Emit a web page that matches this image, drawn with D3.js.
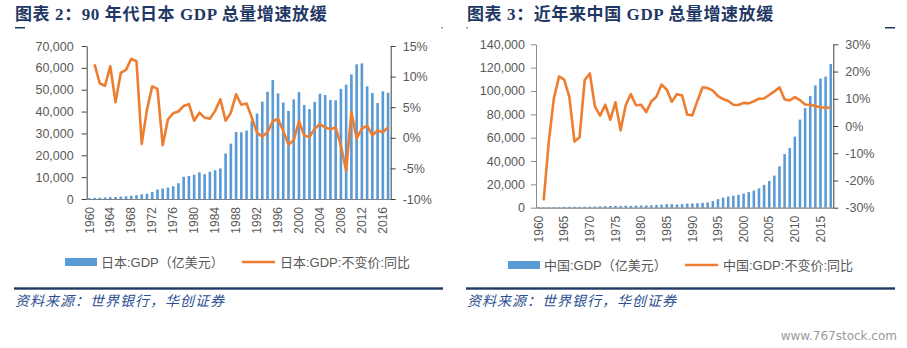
<!DOCTYPE html>
<html>
<head>
<meta charset="utf-8">
<script src="https://cdn.jsdelivr.net/npm/d3@7"></script>
<style>
    body { margin: 0; background: #fff; }
    svg { display: block; }
    .tick text { fill: #595959; }
</style>
</head>
<body>
<script>
(function() {
    'use strict';

    // categories
    let years = d3.range(1960, 2018);

    // 日本 GDP（亿美元）
    let japanGdp = [
        443, 535, 607, 695, 817, 910, 1056, 1238, 1466, 1722,
        2126, 2402, 3180, 4321, 4796, 5215, 5862, 7214, 10136, 10550,
        11054, 12190, 11345, 12433, 13184, 13989, 20789, 25328, 30720, 30549,
        31328, 35844, 39088, 44541, 49070, 54491, 48337, 44147, 40325, 45621,
        48875, 43035, 41151, 44457, 48151, 47554, 45304, 45153, 50379, 52314,
        57001, 61575, 62032, 51557, 48504, 43895, 49267, 48600
    ];
    // 日本 GDP 不变价 同比（%），1960 无数据
    let japanGrowth = [
        null, 12.0, 8.9, 8.5, 11.7, 5.8, 10.6, 11.1, 12.9, 12.5,
        -1.0, 4.6, 8.4, 8.0, -1.2, 3.0, 4.0, 4.3, 5.2, 5.5,
        2.8, 4.1, 3.3, 3.1, 4.4, 6.3, 2.8, 4.1, 7.1, 5.4,
        5.6, 3.3, 0.8, 0.2, 0.9, 2.7, 3.1, 1.1, -1.1, -0.4,
        2.7, 0.4, 0.1, 1.5, 2.2, 1.7, 1.4, 1.7, -1.3, -5.4,
        4.2, -0.1, 1.5, 2.0, 0.4, 1.2, 0.9, 1.7
    ];

    // 中国 GDP（亿美元）
    let chinaGdp = [
        597, 501, 472, 507, 597, 704, 767, 729, 708, 797,
        926, 998, 1137, 1385, 1442, 1634, 1539, 1749, 1495, 1783,
        1911, 1959, 2051, 2307, 2599, 3095, 3008, 2730, 3124, 3478,
        3609, 3834, 4269, 4447, 5643, 7345, 8637, 9616, 10290, 10940,
        12113, 13394, 14706, 16603, 19553, 22860, 27521, 35503, 45943, 51017,
        60872, 75515, 85322, 95704, 104757, 110616, 112333, 123104
    ];
    // 中国 GDP 不变价 同比（%）
    let chinaGrowth = [
        null, -27.3, -5.6, 10.3, 18.2, 17.0, 10.7, -5.7, -4.1, 16.9,
        19.3, 7.1, 3.8, 7.8, 2.3, 8.7, -1.6, 7.6, 11.7, 7.6,
        7.8, 5.1, 9.0, 10.8, 15.2, 13.4, 8.9, 11.7, 11.2, 4.2,
        3.9, 9.3, 14.2, 13.9, 13.0, 11.0, 9.9, 9.2, 7.8, 7.7,
        8.5, 8.3, 9.1, 10.0, 10.1, 11.4, 12.7, 14.2, 9.7, 9.4,
        10.6, 9.5, 7.9, 7.8, 7.3, 6.9, 6.7, 6.8
    ];

    let japanTicks = [0, 10000, 20000, 30000, 40000, 50000, 60000, 70000];
    let japanPctTicks = [-10, -5, 0, 5, 10, 15];
    let japanYearLabels = years.filter(function(y) { return (y - 1960) % 4 === 0; });

    let chinaTicks = [0, 20000, 40000, 60000, 80000, 100000, 120000, 140000];
    let chinaPctTicks = [-30, -20, -10, 0, 10, 20, 30];
    let chinaYearLabels = years.filter(function(y) { return (y - 1960) % 5 === 0; });

    let blue = "#5b9bd5";
    let orange = "#ed7d31";
    let navy = "#1f3864";
    let sansFont = "'Liberation Sans', 'Noto Sans CJK SC', sans-serif";

    let svg = d3.select("body").append("svg")
        .attr("width", 907)
        .attr("height", 348);

    function drawChart(cfg) {
        let g = svg.append("g");

        // title
        g.append("text")
            .attr("x", cfg.titleX)
            .attr("y", 20)
            .attr("fill", navy)
            .style("font-family", "'Liberation Serif', 'Noto Sans CJK SC', serif")
            .style("font-weight", "bold")
            .style("font-size", "17px")
            .style("letter-spacing", "0.6px")
            .text(cfg.title);

        cfg.titleMarks.forEach(function(m) {
            g.append("rect")
                .attr("x", m[0]).attr("y", 27)
                .attr("width", m[1] - m[0]).attr("height", 1.5)
                .attr("fill", navy);
        });

        let x = d3.scaleBand()
            .domain(years)
            .range([cfg.left, cfg.right])
            .paddingInner(cfg.pad)
            .paddingOuter(cfg.pad / 2);
        let y = d3.scaleLinear()
            .domain([cfg.ticks[0], cfg.ticks[cfg.ticks.length - 1]])
            .range([cfg.bottom, cfg.top]);
        let y2 = d3.scaleLinear()
            .domain([cfg.pctTicks[0], cfg.pctTicks[cfg.pctTicks.length - 1]])
            .range([cfg.bottom, cfg.top]);

        // bars
        g.append("g").selectAll("rect")
            .data(cfg.gdp)
            .enter()
            .append("rect")
            .attr("x", function(d, i) { return x(years[i]); })
            .attr("y", function(d) { return y(d); })
            .attr("width", x.bandwidth())
            .attr("height", function(d) { return cfg.bottom - y(d); })
            .attr("fill", blue);

        // left axis
        let axL = g.append("g")
            .attr("transform", "translate(" + cfg.left + ",0)")
            .call(d3.axisLeft(y).tickValues(cfg.ticks).tickSize(5).tickSizeOuter(0)
                .tickPadding(cfg.leftPad).tickFormat(d3.format(",")));
        axL.selectAll("path, line").attr("stroke", cfg.leftAxisColor);
        axL.selectAll("text").style("font-family", sansFont).style("font-size", "12.5px");

        // right axis
        let axR = g.append("g")
            .attr("transform", "translate(" + cfg.right + ",0)")
            .call(d3.axisRight(y2).tickValues(cfg.pctTicks).tickSize(5).tickSizeOuter(0)
                .tickPadding(7).tickFormat(function(d) { return d + "%"; }));
        axR.selectAll("path, line").attr("stroke", "#404040");
        axR.selectAll("text").style("font-family", sansFont).style("font-size", "12.5px");

        // bottom axis
        let axB = g.append("g")
            .attr("transform", "translate(0," + cfg.bottom + ")")
            .call(d3.axisBottom(x).tickValues(cfg.yearLabels).tickSize(0).tickSizeOuter(0));
        axB.select(".domain").attr("stroke", "#808080").attr("stroke-width", 1.2);
        axB.selectAll("text")
            .attr("transform", "rotate(-90)")
            .attr("x", -8)
            .attr("y", 0)
            .attr("dy", "0.35em")
            .style("text-anchor", "end")
            .style("font-family", sansFont)
            .style("font-size", "12px");

        // growth line
        let line = d3.line()
            .defined(function(d) { return d !== null; })
            .x(function(d, i) { return x(years[i]) + x.bandwidth() / 2; })
            .y(function(d) { return y2(d); });
        g.append("path")
            .datum(cfg.growth)
            .attr("fill", "none")
            .attr("stroke", orange)
            .attr("stroke-width", 2.6)
            .attr("stroke-linejoin", "round")
            .attr("d", line);

        // legend
        let lg = g.append("g")
            .style("font-family", sansFont)
            .style("font-size", "13px")
            .attr("fill", "#595959");
        lg.append("rect")
            .attr("x", cfg.legendX).attr("y", cfg.legendY - 4)
            .attr("width", 32).attr("height", 8)
            .attr("fill", blue);
        lg.append("text")
            .attr("x", cfg.legendX + 36).attr("y", cfg.legendY)
            .attr("dy", "0.35em")
            .text(cfg.name + ":GDP（亿美元）");
        lg.append("line")
            .attr("x1", cfg.legendX2).attr("x2", cfg.legendX2 + 33)
            .attr("y1", cfg.legendY).attr("y2", cfg.legendY)
            .attr("stroke", orange).attr("stroke-width", 2.6);
        lg.append("text")
            .attr("x", cfg.legendX2 + 38).attr("y", cfg.legendY)
            .attr("dy", "0.35em")
            .text(cfg.name + ":GDP:不变价:同比");

        // footer
        g.append("rect")
            .attr("x", cfg.footX1).attr("y", 287.3)
            .attr("width", cfg.footX2 - cfg.footX1).attr("height", 2.4)
            .attr("fill", navy);
        g.append("text")
            .attr("x", cfg.footX1 + 1).attr("y", 306)
            .attr("fill", "#2b4f91")
            .style("font-family", "'Noto Sans CJK SC', sans-serif")
            .style("font-style", "italic")
            .style("font-size", "14px")
            .style("letter-spacing", "1px")
            .text("资料来源：世界银行，华创证券");
    }

    drawChart({
        title: "图表 2：90 年代日本 GDP 总量增速放缓",
        titleX: 15,
        titleMarks: [[15, 25], [441.5, 442.5]],
        name: "日本",
        gdp: japanGdp,
        growth: japanGrowth,
        ticks: japanTicks,
        pctTicks: japanPctTicks,
        yearLabels: japanYearLabels,
        left: 86.7, right: 390.7, top: 46, bottom: 199,
        pad: 0.5,
        leftPad: 8,
        leftAxisColor: "#404040",
        legendX: 65, legendX2: 242, legendY: 262,
        footX1: 14, footX2: 443
    });

    drawChart({
        title: "图表 3：近年来中国 GDP 总量增速放缓",
        titleX: 467,
        titleMarks: [[466.5, 467.5], [885, 895]],
        name: "中国",
        gdp: chinaGdp,
        growth: chinaGrowth,
        ticks: chinaTicks,
        pctTicks: chinaPctTicks,
        yearLabels: chinaYearLabels,
        left: 536, right: 833.3, top: 44.3, bottom: 207.7,
        pad: 0.5,
        leftPad: 6,
        leftAxisColor: "#8c8c8c",
        legendX: 508, legendX2: 685, legendY: 265,
        footX1: 466, footX2: 895
    });

    svg.append("text")
        .attr("x", 897)
        .attr("y", 340)
        .attr("text-anchor", "end")
        .attr("fill", "#9a9a9a")
        .style("font-family", "'DejaVu Sans', sans-serif")
        .style("font-size", "12px")
        .text("www.767stock.com");
})();
</script>
</body>
</html>
